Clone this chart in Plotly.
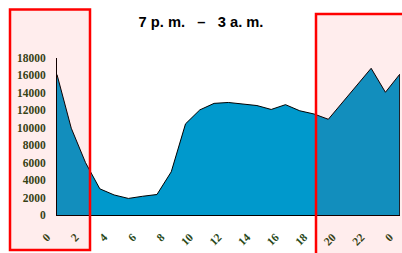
import plotly.graph_objects as go

hours = list(range(25))
values = [16100, 9950, 6000, 3000, 2300, 1900, 2150, 2350, 4950, 10450,
          12050, 12800, 12900, 12750, 12550, 12100, 12650, 11950, 11580,
          10975, 12960, 14850, 16820, 14070, 16130]
tick_vals = list(range(0, 25, 2))
tick_text = ["0", "2", "4", "6", "8", "10", "12", "14", "16", "18", "20", "22", "0"]
y_ticks = list(range(0, 18001, 2000))
title_text = "7 p. m.\u00a0\u00a0\u00a0–\u00a0\u00a0\u00a03 a. m."

label_font = dict(family="Liberation Serif, Times New Roman, serif", size=11.5,
                  color="#284818", weight="bold")

fig = go.Figure()
fig.add_trace(go.Scatter(
    x=hours, y=values, mode="lines", fill="tozeroy",
    fillcolor="#0099cc", line=dict(color="black", width=1),
    hoverinfo="skip", showlegend=False,
))
# closing edge of the area at the last hour
fig.add_trace(go.Scatter(
    x=[hours[-1], hours[-1]], y=[values[-1], 0], mode="lines",
    line=dict(color="black", width=1), hoverinfo="skip", showlegend=False,
))

fig.update_layout(
    width=402, height=253,
    margin=dict(l=57, r=2, t=58, b=38),
    paper_bgcolor="white", plot_bgcolor="white",
    title=dict(text="<b>" + title_text + "</b>", x=0.5, xref="container",
               y=1 - 22 / 253, yref="container", yanchor="middle", xanchor="center",
               font=dict(family="Liberation Sans, Arial, sans-serif", size=14.7, color="black")),
    xaxis=dict(range=[0, 24.02], tickvals=tick_vals, ticktext=tick_text, tickangle=-45,
               showgrid=False, zeroline=False, showline=True, linecolor="black", linewidth=1,
               tickfont=label_font, ticks="", ticklabelstandoff=10, ticklabelshift=-10),
    yaxis=dict(range=[0, 18000], tickvals=y_ticks, tickformat="d", showgrid=False, zeroline=False,
               showline=True, linecolor="black", linewidth=1, tickfont=label_font,
               ticks="", ticklabelstandoff=8),
    shapes=[
        dict(type="rect", xref="paper", yref="paper",
             x0=(10 - 57) / 343, x1=(90 - 57) / 343,
             y0=(215 - 250) / 157, y1=(215 - 9.5) / 157,
             fillcolor="rgba(255,0,0,0.07)", line=dict(color="red", width=2.5), layer="above"),
        dict(type="rect", xref="paper", yref="paper",
             x0=(316 - 57) / 343, x1=(420 - 57) / 343,
             y0=(215 - 270) / 157, y1=(215 - 14) / 157,
             fillcolor="rgba(255,0,0,0.07)", line=dict(color="red", width=2.5), layer="above"),
    ],
)

fig.write_html("out.html", config={"displayModeBar": False},
               post_script="document.body.style.margin='0';document.body.style.overflow='hidden';")
